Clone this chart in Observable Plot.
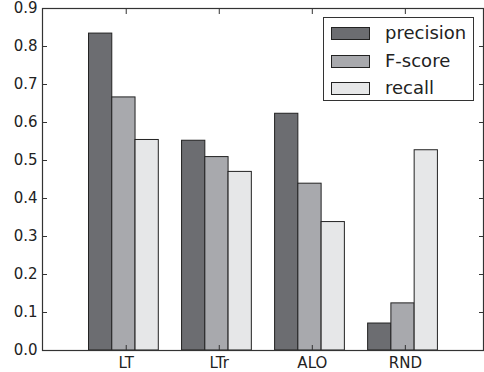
<!DOCTYPE html>
<html>
<head>
<meta charset="utf-8">
<script src="https://cdn.jsdelivr.net/npm/d3@7"></script>
<script src="https://cdn.jsdelivr.net/npm/@observablehq/plot@0.6"></script>
<style>
  html, body { margin: 0; padding: 0; background: #fff; }
  #wrap { position: relative; width: 484px; height: 372px; font-family: "DejaVu Sans", sans-serif; }
  #legend { position: absolute; left: 323px; top: 17px; width: 151px; height: 84px; border: 1px solid #333; background: #fff; box-sizing: border-box; }
  .row { position: absolute; left: 0; height: 14px; }
  .sw { position: absolute; left: 7px; top: 0; width: 39px; height: 13px; border: 1px solid #222; box-sizing: border-box; }
  .lab { position: absolute; left: 61px; top: -5px; font-family: "DejaVu Sans", sans-serif; font-size: 18px; line-height: 21px; color: #222; white-space: nowrap; }
</style>
</head>
<body>
<div id="wrap"></div>
<script>
const categories = ["LT", "LTr", "ALO", "RND"];
const seriesNames = ["precision", "F-score", "recall"];
const precision = [0.834, 0.552, 0.623, 0.071];
const fscore = [0.666, 0.509, 0.439, 0.124];
const recall = [0.554, 0.470, 0.338, 0.527];
const seriesColors = ["#6c6d71", "#a8a9ad", "#e6e7e8"];
const yTicks = [0, 0.1, 0.2, 0.3, 0.4, 0.5, 0.6, 0.7, 0.8, 0.9];

const seriesValues = [precision, fscore, recall];
const barWidth = 0.25;
const tickOffset = 0.4;
const rows = [];
categories.forEach((c, i) => {
  seriesValues.forEach((vals, k) => {
    rows.push({i, k, cat: c, series: seriesNames[k], value: vals[i]});
  });
});
const xTicks = categories.map((c, i) => i + tickOffset);

const chart = Plot.plot({
  width: 484,
  height: 372,
  marginLeft: 42,
  marginRight: 1,
  marginTop: 8,
  marginBottom: 22,
  style: {fontFamily: "DejaVu Sans, sans-serif", fontSize: "15px", color: "#222", background: "#fff"},
  x: {domain: [-0.5, 4.24], axis: null},
  y: {domain: [0, 0.9], axis: null},
  color: {domain: seriesNames, range: seriesColors},
  marks: [
    Plot.rectY(rows, {
      x1: d => d.i + d.k * barWidth,
      x2: d => d.i + (d.k + 1) * barWidth,
      y1: 0,
      y2: "value",
      fill: "series",
      stroke: "#222",
      strokeWidth: 1
    }),
    Plot.axisY(yTicks, {anchor: "left", tickSize: 0, tickPadding: 5, fontSize: 15, tickFormat: d3.format(".1f"), label: null, fill: "#222"}),
    Plot.axisY(yTicks, {anchor: "left", tickSize: -5, fill: "none", label: null, stroke: "#333"}),
    Plot.axisY(yTicks, {anchor: "right", tickSize: -5, fill: "none", label: null, stroke: "#333"}),
    Plot.axisX(xTicks, {anchor: "bottom", tickSize: 0, tickPadding: 7, fontSize: 15, tickFormat: d => categories[Math.round(d - tickOffset)], label: null, fill: "#222"}),
    Plot.axisX(xTicks, {anchor: "bottom", tickSize: -5, fill: "none", label: null, stroke: "#333"}),
    Plot.axisX(xTicks, {anchor: "top", tickSize: -5, fill: "none", label: null, stroke: "#333"}),
    Plot.frame({stroke: "#333", strokeWidth: 1.2})
  ]
});

const wrap = document.getElementById("wrap");
wrap.appendChild(chart);

const legend = document.createElement("div");
legend.id = "legend";
seriesNames.forEach((name, k) => {
  const row = document.createElement("div");
  row.className = "row";
  row.style.top = (9 + k * 27.5) + "px";
  const sw = document.createElement("div");
  sw.className = "sw";
  sw.style.background = seriesColors[k];
  const lab = document.createElement("div");
  lab.className = "lab";
  lab.textContent = name;
  row.appendChild(sw);
  row.appendChild(lab);
  legend.appendChild(row);
});
wrap.appendChild(legend);
</script>
</body>
</html>
